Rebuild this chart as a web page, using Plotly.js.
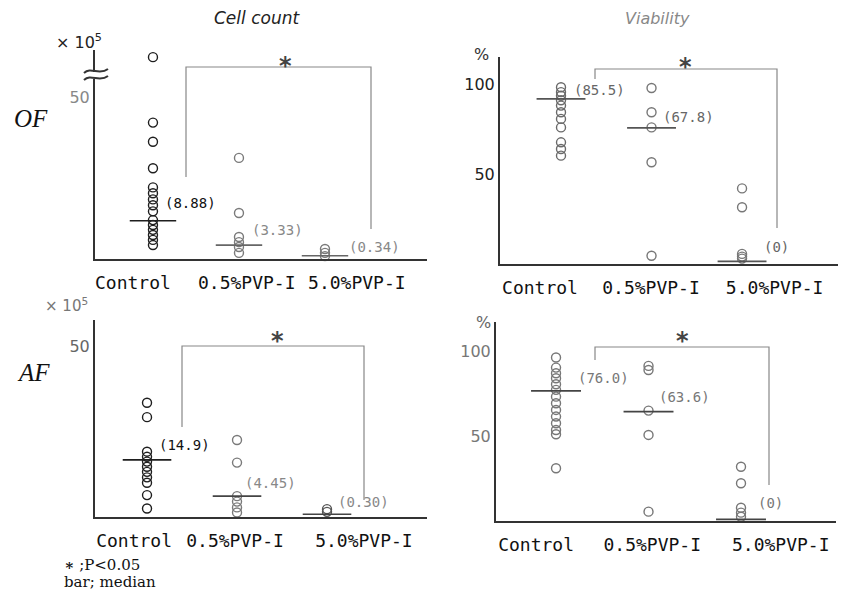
<!DOCTYPE html>
<html>
<head>
<meta charset="utf-8">
<script src="https://cdn.plot.ly/plotly-3.0.1.min.js"></script>
<style>html,body{margin:0;padding:0;background:#fff;}#chart{width:841px;height:597px;}</style>
</head>
<body>
<div id="chart"></div>
<script>
// ---------- data ----------
const groups = ["Control", "0.5%PVP-I", "5.0%PVP-I"];

// OF - cell count (x10^5)
const ofCountControl = [62.3, 42.1, 36.2, 28.0, 22.1, 20.3, 18.4, 16.6, 14.7, 12.0, 10.5, 9.0, 7.4, 5.9, 4.3];
const ofCountPvp05 = [31.2, 14.2, 6.8, 5.2, 3.7, 1.9];
const ofCountPvp50 = [3.1, 1.9, 0.9];
const ofCountMedianBars = [11.8, 4.3, 1.0];
const ofCountMedianLabels = ["(8.88)", "(3.33)", "(0.34)"];

// OF - viability (%)
const ofViabControl = [98.2, 95.5, 93.5, 91.0, 88.0, 84.3, 80.6, 75.9, 67.6, 63.9, 60.2];
const ofViabPvp05 = [97.8, 84.3, 75.9, 56.5, 4.6];
const ofViabPvp50 = [42.0, 31.5, 5.6, 4.1, 3.0];
const ofViabMedianBars = [91.7, 75.6, 1.5];
const ofViabMedianLabels = ["(85.5)", "(67.8)", "(0)"];

// AF - cell count (x10^5)
const afCountControl = [33.4, 29.2, 19.1, 17.6, 16.2, 14.7, 13.2, 11.6, 10.0, 6.4, 2.5];
const afCountPvp05 = [22.5, 15.9, 6.1, 4.5, 2.8, 1.3];
const afCountPvp50 = [2.3, 1.5];
const afCountMedianBars = [16.7, 6.1, 0.8];
const afCountMedianLabels = ["(14.9)", "(4.45)", "(0.30)"];

// AF - viability (%)
const afViabControl = [96.1, 90.2, 86.9, 83.9, 80.4, 77.1, 73.1, 69.2, 65.3, 61.4, 57.5, 53.5, 51.0, 31.0];
const afViabPvp05 = [91.2, 88.8, 64.9, 50.6, 5.5];
const afViabPvp50 = [31.9, 22.2, 7.8, 4.9, 2.5];
const afViabMedianBars = [76.5, 64.3, 1.0];
const afViabMedianLabels = ["(76.0)", "(63.6)", "(0)"];

// ---------- layout helpers ----------
const W = 841, H = 597;
const px = x => x / W;
const py = y => 1 - y / H;

const panels = [
  { ax: "", series: [ofCountControl, ofCountPvp05, ofCountPvp50], med: ofCountMedianBars,
    ptColors: ["#1e1e1e", "#7a7a7a", "#7a7a7a"], barColors: ["#1e1e1e", "#666", "#666"],
    xdom: [95, 427], ydom: [259, 50], xr: [0.326, 4.186], yr: [0, 64.5],
    ticks: [50], tickCol: "#888", labelPos: [0.767, 2.09, 3.37] },
  { ax: "2", series: [ofViabControl, ofViabPvp05, ofViabPvp50], med: ofViabMedianBars,
    ptColors: ["#6a6a6a", "#777", "#777"], barColors: ["#555", "#555", "#555"],
    xdom: [500, 838], ydom: [264, 57], xr: [0.326, 4.06], yr: [0, 115],
    ticks: [50, 100], tickCol: "#222", labelPos: [0.768, 1.994, 3.36] },
  { ax: "3", series: [afCountControl, afCountPvp05, afCountPvp50], med: afCountMedianBars,
    ptColors: ["#1e1e1e", "#7a7a7a", "#555"], barColors: ["#1e1e1e", "#444", "#444"],
    xdom: [95, 427], ydom: [517, 320], xr: [0.422, 4.111], yr: [0, 57.6],
    ticks: [50], tickCol: "#666", labelPos: [0.856, 1.978, 3.41] },
  { ax: "4", series: [afViabControl, afViabPvp05, afViabPvp50], med: afViabMedianBars,
    ptColors: ["#777", "#777", "#777"], barColors: ["#444", "#444", "#444"],
    xdom: [496, 836], ydom: [521, 322], xr: [0.351, 4.027], yr: [0, 117],
    ticks: [50, 100], tickCol: "#777", labelPos: [0.784, 2.04, 3.43] }
];

const traces = [];
const layout = {
  width: W, height: H,
  margin: { l: 0, r: 0, t: 0, b: 0, pad: 0 },
  paper_bgcolor: "#fff", plot_bgcolor: "rgba(0,0,0,0)",
  showlegend: false,
  font: { family: "DejaVu Sans", color: "#222" },
  annotations: [], shapes: []
};

panels.forEach(p => {
  const xa = "x" + p.ax, ya = "y" + p.ax;
  p.series.forEach((vals, k) => {
    traces.push({
      type: "scatter", mode: "markers", xaxis: xa, yaxis: ya, cliponaxis: false,
      x: vals.map(() => k + 1), y: vals, hoverinfo: "y",
      marker: { symbol: "circle-open", size: 9, color: p.ptColors[k], line: { width: 1.4, color: p.ptColors[k] } }
    });
    traces.push({
      type: "scatter", mode: "lines", xaxis: xa, yaxis: ya, cliponaxis: false,
      x: [k + 1 - 0.27, k + 1 + 0.27], y: [p.med[k], p.med[k]], hoverinfo: "skip",
      line: { color: p.barColors[k], width: 1.7 }
    });
  });
  layout["xaxis" + p.ax] = {
    domain: [px(p.xdom[0]), px(p.xdom[1])], range: p.xr, anchor: ya,
    showline: true, linecolor: "#333", linewidth: 2, showgrid: false, zeroline: false,
    tickmode: "array", tickvals: p.labelPos, ticktext: groups, ticks: "", ticklabelstandoff: 6,
    tickfont: { family: "DejaVu Sans Mono", size: 18, color: "#111" }, fixedrange: true
  };
  layout["yaxis" + p.ax] = {
    domain: [py(p.ydom[0]), py(p.ydom[1])], range: p.yr, anchor: xa,
    showline: true, linecolor: "#333", linewidth: 2, showgrid: false, zeroline: false,
    tickmode: "array", tickvals: p.ticks, ticktext: p.ticks.map(String), ticks: "",
    tickfont: { family: "DejaVu Sans", size: 16, color: p.tickCol }, fixedrange: true
  };
});

// ---------- texts ----------
function txt(x, y, text, opts) {
  const o = opts || {};
  layout.annotations.push({
    xref: "paper", yref: "paper", x: px(x), y: py(y), text: text, showarrow: false,
    xanchor: o.xanchor || "center", yanchor: "middle",
    font: { family: o.family || "DejaVu Sans", size: o.size || 14, color: o.color || "#222" }
  });
}
txt(257, 18, "<i>Cell count</i>", { size: 17, color: "#222" });
txt(657, 18, "<i>Viability</i>", { size: 16, color: "#888" });
txt(79, 42, "× 10<sup>5</sup>", { size: 16, color: "#222" });
txt(66, 305, "× 10<sup>5</sup>", { size: 15, color: "#777" });
txt(482, 55, "%", { size: 16, color: "#333" });
txt(483, 322, "%", { size: 16, color: "#666" });
txt(31, 119, "<i>OF</i>", { family: "Liberation Serif", size: 25, color: "#111" });
txt(33, 372, "<i>AF</i>", { family: "Liberation Serif", size: 25, color: "#111" });

const medLabelPos = [
  [[163, 203], [250, 230], [347, 247]],
  [[572, 90], [661, 117], [762, 247]],
  [[157, 445], [243, 483], [336, 502]],
  [[576, 378], [657, 397], [756, 503]]
];
const medLabelCols = [["#111", "#888", "#888"], ["#666", "#666", "#666"], ["#111", "#888", "#888"], ["#777", "#777", "#777"]];
[ofCountMedianLabels, ofViabMedianLabels, afCountMedianLabels, afViabMedianLabels].forEach((labs, i) => {
  labs.forEach((t, k) => txt(medLabelPos[i][k][0], medLabelPos[i][k][1], t,
    { family: "DejaVu Sans Mono", size: 14, color: medLabelCols[i][k], xanchor: "left" }));
});

// significance brackets
const brackets = [
  { pts: [[186, 177], [186, 67], [371, 67], [371, 229]], star: [285, 66] },
  { pts: [[595, 79], [595, 69], [777, 69], [777, 228]], star: [685, 67] },
  { pts: [[182, 427], [182, 346], [364, 346], [364, 500]], star: [277, 341] },
  { pts: [[595, 360], [595, 347], [769, 347], [769, 485]], star: [682, 341] }
];
brackets.forEach(b => {
  const path = b.pts.map((q, i) => (i ? "L" : "M") + px(q[0]) + "," + py(q[1])).join(" ");
  layout.shapes.push({ type: "path", xref: "paper", yref: "paper", path: path, line: { color: "#888", width: 1.2 } });
  txt(b.star[0], b.star[1], "<b>*</b>", { size: 24, color: "#444" });
});

// axis break on top-left y-axis
layout.shapes.push({ type: "rect", xref: "paper", yref: "paper", layer: "above",
  x0: px(92), x1: px(99), y0: py(72), y1: py(79), fillcolor: "#fff", line: { width: 0 } });
function wave(x0, y0) {
  const P = (x, y) => px(x) + "," + py(y);
  return "M" + P(x0, y0) + " C" + P(x0 + 7, y0 - 7) + " " + P(x0 + 15, y0 + 3) + " " + P(x0 + 24, y0 - 4);
}
layout.shapes.push({ type: "path", xref: "paper", yref: "paper", layer: "above", path: wave(84, 73), line: { color: "#333", width: 2 } });
layout.shapes.push({ type: "path", xref: "paper", yref: "paper", layer: "above", path: wave(84, 80), line: { color: "#333", width: 2 } });

// footnote
txt(62, 565, "<b>∗</b> ;P&lt;0.05", { family: "DejaVu Serif", size: 15, color: "#111", xanchor: "left" });
txt(62, 582, "bar; median", { family: "DejaVu Serif", size: 15, color: "#111", xanchor: "left" });

Plotly.newPlot("chart", traces, layout, { staticPlot: true, displayModeBar: false });
</script>
</body>
</html>
